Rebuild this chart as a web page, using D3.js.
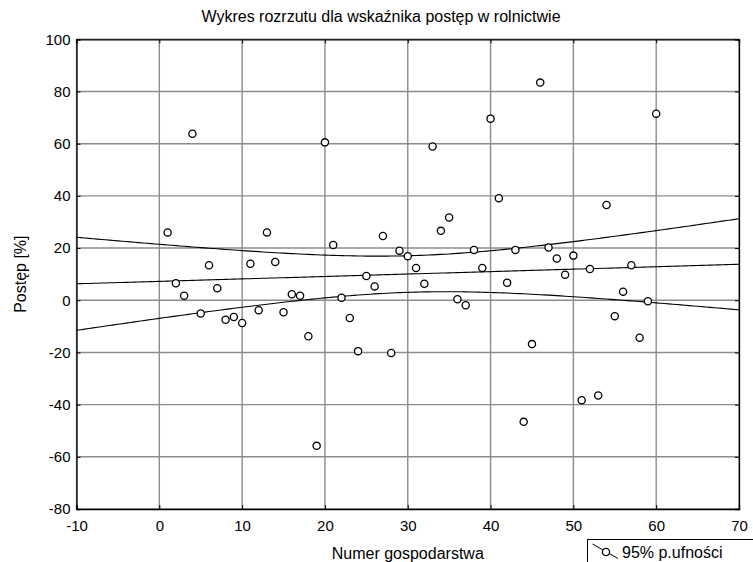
<!DOCTYPE html>
<html>
<head>
<meta charset="utf-8">
<script src="https://cdn.jsdelivr.net/npm/d3@7"></script>
<style>
  body { margin: 0; background: #fff; }
  text { font-family: Arial, "Liberation Sans", sans-serif; fill: #000; }
</style>
</head>
<body>
<div id="chart"></div>
<script>
// farm number (Numer gospodarstwa)
var farmNo = d3.range(1, 61);

// progress indicator in % (Postęp [%])
var progress = [
    26.0, 6.5, 1.7, 63.8, -5.1, 13.4, 4.6, -7.5, -6.4, -8.7,
    14.0, -3.8, 26.0, 14.7, -4.6, 2.3, 1.7, -13.8, -55.8, 60.5,
    21.2, 1.0, -6.8, -19.5, 9.3, 5.3, 24.6, -20.2, 19.0, 16.9,
    12.4, 6.3, 58.9, 26.6, 31.7, 0.4, -1.9, 19.3, 12.4, 69.6,
    39.1, 6.7, 19.3, -46.6, -16.8, 83.4, 20.2, 16.0, 9.8, 17.1,
    -38.3, 12.0, -36.5, 36.5, -6.1, 3.3, 13.4, -14.4, -0.4, 71.5
];

var xTicks = [-10, 0, 10, 20, 30, 40, 50, 60, 70];
var yTicks = [-80, -60, -40, -20, 0, 20, 40, 60, 80, 100];

var title = "Wykres rozrzutu dla wskaźnika postęp w rolnictwie";
var xTitle = "Numer gospodarstwa";
var yTitle = "Postęp [%]";
var legendLabel = "95% p.ufności";

var width = 753, height = 562;
var margin = {top: 39.3, left: 76.5, right: 14, bottom: 53};

var svg = d3.select("#chart")
            .append("svg")
            .attr("width", width)
            .attr("height", height);

var x = d3.scaleLinear()
          .domain([-10, 70])
          .range([margin.left, width - margin.right]);

var y = d3.scaleLinear()
          .domain([-80, 100])
          .range([height - margin.bottom, margin.top]);

// plain hyphen for negatives, like the original
var fmt = function(d) { return String(d); };

// grid
svg.append("g")
   .selectAll("line")
   .data(xTicks)
   .enter()
   .append("line")
       .attr("x1", function(d) { return x(d); })
       .attr("x2", function(d) { return x(d); })
       .attr("y1", y(-80))
       .attr("y2", y(100))
       .attr("stroke", "#8c8c8c")
       .attr("stroke-width", 1.4);

svg.append("g")
   .selectAll("line")
   .data(yTicks)
   .enter()
   .append("line")
       .attr("x1", x(-10))
       .attr("x2", x(70))
       .attr("y1", function(d) { return y(d); })
       .attr("y2", function(d) { return y(d); })
       .attr("stroke", "#8c8c8c")
       .attr("stroke-width", 1.4);

// axes, ticks pointing inside the frame
var fontSize = 15;

svg.append("g")
   .attr("transform", "translate(0," + y(-80) + ")")
   .call(d3.axisBottom(x).tickValues(xTicks).tickFormat(fmt).tickSize(-4).tickPadding(11))
   .call(function(g) {
       g.select(".domain").attr("stroke-width", 1.3);
       g.selectAll("text").attr("font-size", fontSize).attr("font-family", null);
   });

svg.append("g")
   .attr("transform", "translate(0," + y(100) + ")")
   .call(d3.axisTop(x).tickValues(xTicks).tickSize(-4).tickFormat(""))
   .call(function(g) { g.select(".domain").attr("stroke-width", 1.3); });

svg.append("g")
   .attr("transform", "translate(" + x(-10) + ",0)")
   .call(d3.axisLeft(y).tickValues(yTicks).tickFormat(fmt).tickSize(-4).tickPadding(6))
   .call(function(g) {
       g.select(".domain").attr("stroke-width", 1.3);
       g.selectAll("text").attr("font-size", fontSize).attr("font-family", null);
   });

svg.append("g")
   .attr("transform", "translate(" + x(70) + ",0)")
   .call(d3.axisRight(y).tickValues(yTicks).tickSize(-4).tickFormat(""))
   .call(function(g) { g.select(".domain").attr("stroke-width", 1.3); });

// linear regression with 95% confidence band for the mean
var n = farmNo.length;
var mx = d3.mean(farmNo), my = d3.mean(progress);
var sxx = d3.sum(farmNo, function(v) { return (v - mx) * (v - mx); });
var sxy = d3.sum(farmNo, function(v, i) { return (v - mx) * (progress[i] - my); });
var slope = sxy / sxx, intercept = my - slope * mx;
var sse = d3.sum(farmNo, function(v, i) {
    var r = progress[i] - (intercept + slope * v);
    return r * r;
});
var s = Math.sqrt(sse / (n - 2));
var tCrit = 2.0017;

var fitX = d3.range(-10, 70.01, 0.5);
var band = function(sign) {
    return function(v) {
        var half = tCrit * s * Math.sqrt(1 / n + (v - mx) * (v - mx) / sxx);
        return intercept + slope * v + sign * half;
    };
};

var curve = function(f) {
    return d3.line()
             .x(function(v) { return x(v); })
             .y(function(v) { return y(f(v)); })(fitX);
};

[band(0), band(1), band(-1)].forEach(function(f) {
    svg.append("path")
       .attr("d", curve(f))
       .attr("fill", "none")
       .attr("stroke", "#000")
       .attr("stroke-width", 1.1);
});

// points
svg.append("g")
   .selectAll("circle")
   .data(farmNo)
   .enter()
   .append("circle")
       .attr("cx", function(d) { return x(d); })
       .attr("cy", function(d, i) { return y(progress[i]); })
       .attr("r", 3.6)
       .attr("fill", "#fff")
       .attr("stroke", "#000")
       .attr("stroke-width", 1.3);

// titles
svg.append("text")
   .attr("x", 381)
   .attr("y", 22)
   .attr("text-anchor", "middle")
   .attr("font-size", 16)
   .text(title);

svg.append("text")
   .attr("x", (x(-10) + x(70)) / 2)
   .attr("y", 559)
   .attr("text-anchor", "middle")
   .attr("font-size", 16)
   .text(xTitle);

svg.append("text")
   .attr("transform", "translate(26," + (y(-80) + y(100)) / 2 + ") rotate(-90)")
   .attr("text-anchor", "middle")
   .attr("font-size", 16)
   .text(yTitle);

// legend
var legend = svg.append("g").attr("transform", "translate(587,539)");

legend.append("rect")
      .attr("x", 0.5)
      .attr("y", 0.5)
      .attr("width", width - 587)
      .attr("height", height - 539)
      .attr("fill", "#fff")
      .attr("stroke", "#000")
      .attr("stroke-width", 1);

legend.append("line")
      .attr("x1", 5.5).attr("y1", 5)
      .attr("x2", 31).attr("y2", 19.5)
      .attr("stroke", "#000")
      .attr("stroke-width", 1);

legend.append("circle")
      .attr("cx", 19).attr("cy", 13)
      .attr("r", 3.6)
      .attr("fill", "#fff")
      .attr("stroke", "#000")
      .attr("stroke-width", 1.3);

legend.append("text")
      .attr("x", 35)
      .attr("y", 19)
      .attr("font-size", 16)
      .text(legendLabel);
</script>
</body>
</html>
